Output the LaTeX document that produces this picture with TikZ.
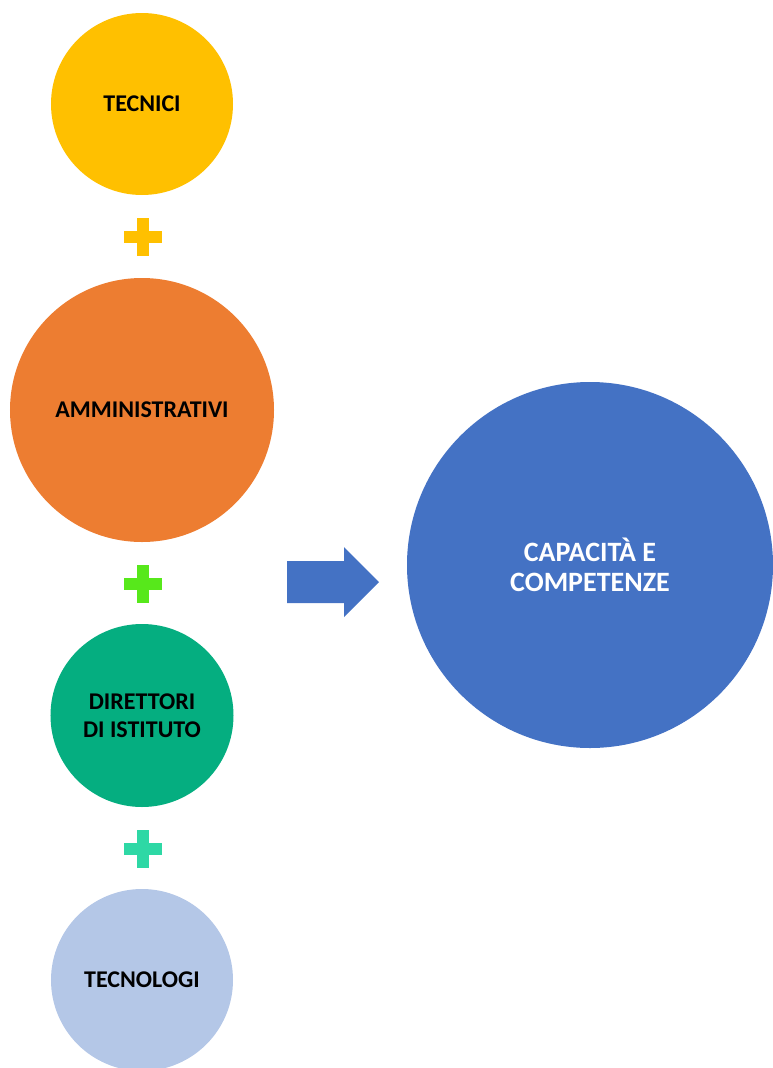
\documentclass[tikz,border=0pt]{standalone}
\usepackage{fontspec}
\setmainfont{Carlito}
\definecolor{cyellow}{HTML}{FFC000}
\definecolor{corange}{HTML}{ED7D31}
\definecolor{cgreenplus}{HTML}{57E81B}
\definecolor{cteal}{HTML}{05AE80}
\definecolor{ctealplus}{HTML}{2ED8A5}
\definecolor{clightblue}{HTML}{B4C7E7}
\definecolor{cblue}{HTML}{4472C4}
\tikzset{
  bubble/.style={circle, inner sep=0pt, align=center, font=\fontsize{24bp}{28bp}\selectfont\bfseries},
  bigbubble/.style={bubble, font=\fontsize{28bp}{30bp}\selectfont\bfseries}
}
\newcommand{\plusat}[3]{% x, y, colour
  \fill[#3] (#1-19,#2-6) rectangle (#1+19,#2+6);
  \fill[#3] (#1-6,#2-19) rectangle (#1+6,#2+19);
}
\begin{document}
\begin{tikzpicture}[x=1bp,y=-1bp]
\useasboundingbox (0,0) rectangle (773,1068);
\clip (0,0) rectangle (773,1068);
\node[bubble, fill=cyellow, minimum size=182bp] (tecnici) at (142,104) {TECNICI};
\node[bubble, fill=corange, minimum size=264bp] (amm) at (142,410) {AMMINISTRATIVI};
\node[bubble, fill=cteal, minimum size=183bp] (dir) at (142,715.5) {DIRETTORI\\DI ISTITUTO};
\node[bubble, fill=clightblue, minimum size=182bp] (tecnologi) at (142,980) {TECNOLOGI};
\node[bigbubble, fill=cblue, text=white, minimum size=366bp] (cap) at (590,565) {CAPACITÀ E\\COMPETENZE};
\plusat{142.5}{237}{cyellow}
\plusat{142.5}{583.5}{cgreenplus}
\plusat{142.5}{848.5}{ctealplus}
\coordinate (a0) at (287,561);
\fill[cblue] (a0) -- (344,561) -- (344,547) -- (379,582) -- (344,617) -- (344,603) -- (287,603) -- cycle;
\end{tikzpicture}
\end{document}
